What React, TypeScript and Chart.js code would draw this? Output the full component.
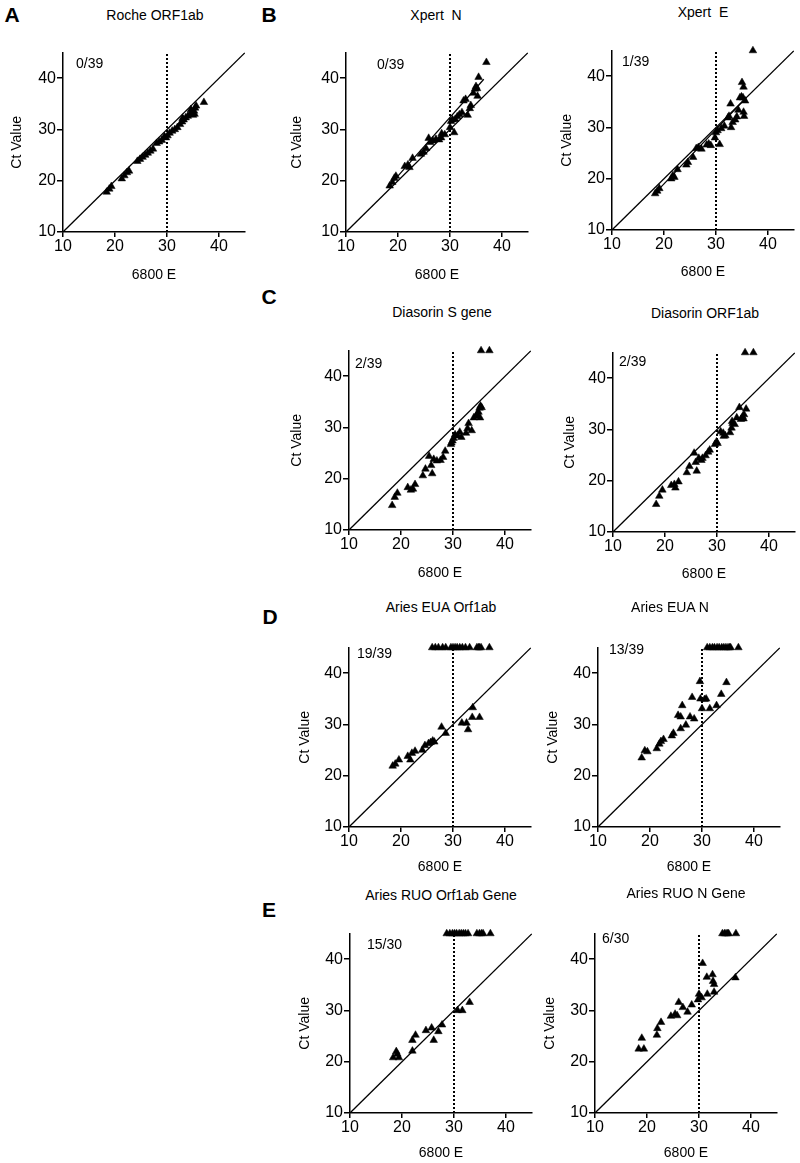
import React, { useEffect, useRef } from "react";
import { Chart, registerables } from "chart.js";

Chart.register(...registerables);

// ---------- shared axis values ----------
const AXIS_MIN = 10;
const AXIS_MAX = 45;
const AXIS_TICKS = [10, 20, 30, 40];
const CUTOFF_CT = 30;
const X_LABEL = "6800 E";
const Y_LABEL = "Ct Value";

// ---------- data: [6800 E Ct, comparator Ct]; 45 = not detected ----------
const rocheOrf1ab: [number, number][] = [
  [18.4, 17.8], [18.9, 18.4], [19.3, 18.9], [21.3, 20.4], [21.8, 21.0], [22.3, 21.6], [22.7, 21.9],
  [24.3, 23.8], [24.8, 24.2], [25.3, 24.6], [25.8, 25.0], [26.3, 25.4], [26.8, 25.8], [27.3, 26.2],
  [28.0, 27.3], [28.5, 27.6], [29.0, 27.9], [29.5, 28.6], [29.8, 28.4], [30.1, 28.8], [30.5, 29.3],
  [31.0, 29.7], [31.5, 30.0], [32.0, 30.4], [32.5, 31.0], [32.9, 31.5], [33.0, 32.2], [33.2, 31.9],
  [33.6, 32.3], [34.0, 32.6], [34.4, 33.0], [34.6, 33.9], [34.8, 33.3], [35.0, 32.8], [35.2, 33.6],
  [35.3, 33.0], [35.4, 34.2], [35.6, 34.6], [37.1, 35.3],
];

const xpertN: [number, number][] = [
  [18.4, 19.0], [18.9, 19.7], [19.3, 20.5], [19.6, 20.9], [21.3, 22.8], [21.9, 23.1], [22.2, 22.6],
  [22.8, 24.4], [24.4, 25.2], [24.9, 25.6], [25.4, 26.3], [25.9, 28.3], [26.2, 27.5], [26.7, 27.8],
  [27.3, 28.1], [27.9, 28.0], [28.3, 28.4], [28.4, 29.2], [29.0, 29.0], [30.0, 30.4], [30.2, 31.6],
  [30.5, 31.9], [30.8, 29.4], [31.0, 32.0], [31.4, 32.5], [31.8, 32.9], [32.3, 33.3], [32.6, 35.6],
  [33.0, 35.9], [33.4, 32.8], [33.8, 34.1], [34.0, 34.7], [34.5, 37.1], [34.8, 37.9], [35.0, 38.4],
  [35.2, 38.0], [35.5, 40.2], [35.3, 36.5], [37.0, 43.1],
];
const xpertNFit: [number, number][] = [[18.3, 19.0], [36.5, 39.8]];

const xpertE: [number, number][] = [
  [18.3, 17.1], [18.7, 17.6], [19.1, 18.1], [21.4, 20.0], [21.7, 20.6], [22.0, 20.3], [22.6, 21.8],
  [24.3, 22.7], [24.6, 23.2], [25.6, 24.2], [26.2, 25.9], [26.6, 26.1], [27.2, 25.8], [28.2, 26.6],
  [28.6, 26.8], [29.0, 26.5], [29.8, 28.0], [30.0, 29.0], [30.3, 29.4], [30.7, 26.7], [31.0, 29.8],
  [31.6, 30.3], [32.3, 31.9], [32.5, 32.2], [32.8, 34.6], [32.9, 30.0], [33.2, 31.0], [33.7, 31.5],
  [34.0, 32.1], [34.3, 33.4], [34.6, 35.8], [34.9, 36.0], [35.0, 38.8], [35.2, 35.8], [35.3, 37.9],
  [35.3, 33.0], [35.4, 32.2], [35.6, 35.2], [37.1, 45],
];
const xpertEFit: [number, number][] = [[18.3, 17.2], [35.8, 35.8]];

const diasorinS: [number, number][] = [
  [18.3, 14.8], [18.8, 16.4], [19.3, 17.2], [21.3, 18.3], [21.9, 17.8], [22.3, 18.0], [22.7, 18.9],
  [24.2, 20.6], [24.7, 21.9], [25.4, 24.4], [25.8, 22.6], [26.0, 21.0], [26.3, 23.8], [26.9, 23.5],
  [27.6, 23.6], [28.1, 24.2], [28.5, 25.4], [29.6, 26.7], [29.7, 27.0], [29.9, 27.4], [30.1, 27.9],
  [30.4, 28.6], [30.9, 28.4], [31.3, 29.1], [31.6, 28.1], [32.5, 28.9], [32.8, 29.8], [33.0, 30.8],
  [33.6, 29.4], [34.0, 31.9], [34.5, 32.3], [34.6, 32.6], [34.9, 33.0], [35.1, 33.8], [35.2, 31.9],
  [35.3, 34.2], [35.5, 33.9], [35.4, 45], [37.0, 45],
];

const diasorinOrf1ab: [number, number][] = [
  [18.3, 15.4], [18.9, 17.0], [19.5, 18.2], [21.2, 19.1], [21.8, 19.3], [22.0, 18.6], [22.6, 19.8],
  [24.2, 21.6], [24.7, 22.8], [25.6, 25.4], [25.9, 23.6], [26.1, 21.9], [26.5, 24.4], [27.0, 24.0],
  [27.2, 24.4], [27.8, 24.9], [28.3, 25.6], [28.6, 26.0], [29.6, 27.1], [29.9, 27.6], [30.1, 27.3],
  [30.7, 29.6], [31.2, 29.3], [31.3, 28.7], [31.6, 28.8], [32.5, 29.4], [32.8, 30.3], [32.9, 31.6],
  [33.0, 31.2], [33.4, 31.0], [33.8, 32.3], [34.3, 34.3], [34.6, 32.0], [34.9, 32.5], [35.1, 32.1],
  [35.2, 32.9], [35.6, 34.0], [35.4, 45], [37.0, 45],
];

const ariesEuaOrf1ab: [number, number][] = [
  [18.4, 21.9], [18.9, 22.3], [19.6, 23.1], [21.3, 23.8], [21.8, 23.1], [22.1, 24.4], [22.7, 24.8],
  [24.1, 25.0], [24.6, 25.9], [25.3, 26.3], [25.7, 26.5], [26.1, 26.8], [26.4, 26.6], [27.8, 29.5],
  [28.6, 28.3], [31.7, 30.3], [32.6, 30.3], [32.9, 29.0], [33.7, 31.4], [33.8, 33.3], [35.1, 31.4],
  [26.0, 45], [26.6, 45], [27.2, 45], [28.0, 45], [28.6, 45], [29.6, 45], [30.0, 45], [30.4, 45],
  [30.8, 45], [31.3, 45], [31.8, 45], [32.4, 45], [33.2, 45], [34.6, 45], [34.9, 45], [35.1, 45],
  [35.4, 45], [37.0, 45],
];

const ariesEuaN: [number, number][] = [
  [18.4, 23.5], [19.0, 24.9], [19.5, 24.7], [21.3, 25.3], [21.8, 26.2], [22.1, 26.7], [22.6, 27.1],
  [24.2, 27.8], [24.5, 28.3], [25.4, 31.8], [25.9, 31.5], [26.2, 33.7], [25.9, 29.2], [26.9, 29.9],
  [27.7, 31.5], [28.1, 35.3], [28.5, 31.1], [29.6, 38.4], [29.7, 35.0], [30.0, 33.1], [30.5, 34.9],
  [30.8, 35.0], [31.5, 33.1], [32.8, 33.7], [33.7, 35.9], [34.7, 38.2],
  [31.0, 45], [31.5, 45], [32.0, 45], [32.4, 45], [32.9, 45], [33.3, 45], [33.8, 45], [34.2, 45],
  [34.6, 45], [35.0, 45], [35.3, 45], [35.5, 45], [37.0, 45],
];

const ariesRuoOrf1ab: [number, number][] = [
  [18.3, 20.8], [18.9, 22.0], [19.1, 21.5], [19.4, 20.8], [22.0, 22.1], [22.0, 24.2], [22.6, 25.2],
  [24.6, 26.1], [25.7, 26.6], [26.1, 24.2], [27.0, 25.9], [27.7, 27.2], [30.7, 30.0], [31.6, 30.0],
  [33.0, 31.6],
  [28.6, 45], [29.2, 45], [29.7, 45], [30.1, 45], [30.5, 45], [31.0, 45], [31.4, 45], [31.8, 45],
  [32.2, 45], [32.7, 45], [34.4, 45], [34.9, 45], [35.3, 45], [35.6, 45], [37.0, 45],
];

const ariesRuoN: [number, number][] = [
  [18.4, 22.5], [19.0, 24.6], [19.4, 22.5], [21.9, 25.2], [22.0, 26.5], [22.7, 27.7], [24.6, 28.9],
  [25.4, 29.3], [25.8, 29.0], [26.1, 31.6], [26.9, 30.6], [27.8, 29.7], [28.6, 31.1], [29.8, 32.1],
  [30.0, 33.2], [30.5, 32.5], [30.7, 39.2], [31.5, 36.5], [31.6, 33.2], [32.6, 37.0], [32.7, 35.7],
  [32.9, 35.1], [32.9, 33.6], [37.0, 36.4],
  [34.5, 45], [34.9, 45], [35.2, 45], [35.5, 45], [35.7, 45], [37.1, 45],
];

// ---------- layout ----------
const FONT = '"Liberation Sans", Arial, Helvetica, sans-serif';
const PLOT_W = 182;
const Y_BOX = 64;
const PAD_T = 8;
const PAD_R = 12;
const X_BOX = 56;

type Panel = {
  title: string;
  count: string;
  data: [number, number][];
  fit?: [number, number][];
  axisX: number;
  axisTop: number;
  axisBottom: number;
  titleCx: number;
  titleCy: number;
  yTitleDx: number;
  xTitleDy: number;
  countDx: number;
  countDy: number;
};

const PANELS: Panel[] = [
  { title: "Roche ORF1ab", count: "0/39", data: rocheOrf1ab, axisX: 63, axisTop: 50, axisBottom: 232, titleCx: 155, titleCy: 15, yTitleDx: -46, xTitleDy: 43, countDx: 13, countDy: 12 },
  { title: "Xpert  N", count: "0/39", data: xpertN, fit: xpertNFit, axisX: 346, axisTop: 50, axisBottom: 232, titleCx: 436, titleCy: 15, yTitleDx: -49, xTitleDy: 43, countDx: 31, countDy: 13 },
  { title: "Xpert  E", count: "1/39", data: xpertE, fit: xpertEFit, axisX: 612, axisTop: 48, axisBottom: 230, titleCx: 703, titleCy: 12, yTitleDx: -45, xTitleDy: 42, countDx: 10, countDy: 12 },
  { title: "Diasorin S gene", count: "2/39", data: diasorinS, axisX: 349, axisTop: 348, axisBottom: 530, titleCx: 442, titleCy: 312, yTitleDx: -52, xTitleDy: 43, countDx: 6, countDy: 14 },
  { title: "Diasorin ORF1ab", count: "2/39", data: diasorinOrf1ab, axisX: 613, axisTop: 350, axisBottom: 532, titleCx: 705, titleCy: 313, yTitleDx: -43, xTitleDy: 42, countDx: 6, countDy: 10 },
  { title: "Aries EUA Orf1ab", count: "19/39", data: ariesEuaOrf1ab, axisX: 349, axisTop: 645, axisBottom: 827, titleCx: 441, titleCy: 607, yTitleDx: -44, xTitleDy: 40, countDx: 8, countDy: 7 },
  { title: "Aries EUA N", count: "13/39", data: ariesEuaN, axisX: 598, axisTop: 645, axisBottom: 827, titleCx: 670, titleCy: 607, yTitleDx: -45, xTitleDy: 40, countDx: 11, countDy: 3 },
  { title: "Aries RUO Orf1ab Gene", count: "15/30", data: ariesRuoOrf1ab, axisX: 350, axisTop: 931, axisBottom: 1113, titleCx: 441, titleCy: 895, yTitleDx: -45, xTitleDy: 40, countDx: 17, countDy: 12 },
  { title: "Aries RUO N Gene", count: "6/30", data: ariesRuoN, axisX: 595, axisTop: 931, axisBottom: 1113, titleCx: 686, titleCy: 893, yTitleDx: -45, xTitleDy: 40, countDx: 7, countDy: 6 },
];

const LETTERS = [
  { t: "A", x: 12, y: 15 },
  { t: "B", x: 269, y: 15 },
  { t: "C", x: 269, y: 297 },
  { t: "D", x: 270, y: 617 },
  { t: "E", x: 269, y: 910 },
];

const countPlugin = {
  id: "countLabel",
  afterDatasetsDraw(chart: any, _args: any, opts: any) {
    const { ctx, chartArea } = chart;
    ctx.save();
    ctx.font = `14px ${FONT}`;
    ctx.fillStyle = "#000";
    ctx.textBaseline = "middle";
    ctx.textAlign = "left";
    ctx.fillText(opts.text, chartArea.left + opts.dx, chartArea.top + opts.dy);
    ctx.restore();
  },
};

const toXY = (arr: [number, number][]) => arr.map(([x, y]) => ({ x, y }));

function PanelChart({ p }: { p: Panel }) {
  const ref = useRef<HTMLCanvasElement>(null);
  const W = Y_BOX + PLOT_W + PAD_R;
  const H = PAD_T + (p.axisBottom - p.axisTop) + X_BOX;

  useEffect(() => {
    if (!ref.current) return;
    const datasets: any[] = [
      {
        label: "points",
        data: toXY(p.data),
        pointStyle: "triangle",
        pointRadius: 4.4,
        pointBackgroundColor: "#000",
        pointBorderColor: "#000",
        pointBorderWidth: 0.5,
        showLine: false,
        clip: false,
      },
    ];
    if (p.fit) {
      datasets.push({
        label: "fit",
        data: toXY(p.fit),
        showLine: true,
        borderColor: "#000",
        borderWidth: 1.2,
        pointRadius: 0,
      });
    }
    datasets.push({
      label: "identity",
      data: [
        { x: AXIS_MIN, y: AXIS_MIN },
        { x: AXIS_MAX, y: AXIS_MAX },
      ],
      showLine: true,
      borderColor: "#000",
      borderWidth: 1.3,
      pointRadius: 0,
    });
    datasets.push({
      label: "cutoff",
      data: [
        { x: CUTOFF_CT, y: AXIS_MIN },
        { x: CUTOFF_CT, y: AXIS_MAX },
      ],
      showLine: true,
      borderColor: "#000",
      borderWidth: 2,
      borderDash: [2, 2],
      pointRadius: 0,
    });

    const tickSetter = (s: any) => {
      s.ticks = AXIS_TICKS.map((v) => ({ value: v }));
    };

    const chart = new Chart(ref.current, {
      type: "scatter",
      data: { datasets },
      plugins: [countPlugin as any],
      options: {
        animation: false,
        responsive: false,
        devicePixelRatio: 1,
        layout: { padding: { left: 0, top: PAD_T, right: PAD_R, bottom: 0 } },
        plugins: {
          legend: { display: false },
          tooltip: { enabled: false },
          title: { display: false },
          countLabel: { text: p.count, dx: p.countDx, dy: p.countDy },
        } as any,
        scales: {
          x: {
            type: "linear",
            position: "bottom",
            min: AXIS_MIN,
            max: AXIS_MAX,
            afterBuildTicks: tickSetter,
            afterFit: (s: any) => {
              s.height = X_BOX;
            },
            border: { display: true, color: "#000", width: 1.5 },
            grid: { display: true, drawOnChartArea: false, drawTicks: true, tickLength: 5, color: "#000", lineWidth: 1.5 },
            ticks: { color: "#000", font: { family: FONT, size: 16 }, padding: 0, maxRotation: 0, autoSkip: false },
            title: {
              display: true,
              text: X_LABEL,
              color: "#000",
              font: { family: FONT, size: 14 },
              padding: { top: 0, bottom: X_BOX - 8.4 - p.xTitleDy },
            },
          },
          y: {
            type: "linear",
            position: "left",
            min: AXIS_MIN,
            max: AXIS_MAX,
            afterBuildTicks: tickSetter,
            afterFit: (s: any) => {
              s.width = Y_BOX;
            },
            border: { display: true, color: "#000", width: 1.5 },
            grid: { display: true, drawOnChartArea: false, drawTicks: true, tickLength: 6, color: "#000", lineWidth: 1.5 },
            ticks: { color: "#000", font: { family: FONT, size: 16 }, padding: 1, autoSkip: false },
            title: {
              display: true,
              text: Y_LABEL,
              color: "#000",
              font: { family: FONT, size: 14 },
              padding: { top: Y_BOX - 8.4 + p.yTitleDx, bottom: 0 },
            },
          },
        },
      } as any,
    });
    return () => chart.destroy();
  }, []);

  return (
    <canvas
      ref={ref}
      width={W}
      height={H}
      style={{ position: "absolute", left: p.axisX - Y_BOX, top: p.axisTop - PAD_T, width: W, height: H }}
    />
  );
}

export default function App() {
  return (
    <div style={{ position: "absolute", left: 0, top: 0, width: 800, height: 1163, background: "#fff", overflow: "hidden" }}>
      {PANELS.map((p, i) => (
        <PanelChart key={i} p={p} />
      ))}
      {PANELS.map((p, i) => (
        <div
          key={"t" + i}
          style={{
            position: "absolute",
            left: p.titleCx,
            top: p.titleCy,
            transform: "translate(-50%, -50%)",
            font: `14px ${FONT}`,
            lineHeight: "16px",
            whiteSpace: "pre",
            color: "#000",
          }}
        >
          {p.title}
        </div>
      ))}
      {LETTERS.map((l) => (
        <div
          key={l.t}
          style={{
            position: "absolute",
            left: l.x,
            top: l.y,
            transform: "translate(-50%, -50%)",
            font: `bold 21px ${FONT}`,
            lineHeight: "22px",
            color: "#000",
          }}
        >
          {l.t}
        </div>
      ))}
    </div>
  );
}
